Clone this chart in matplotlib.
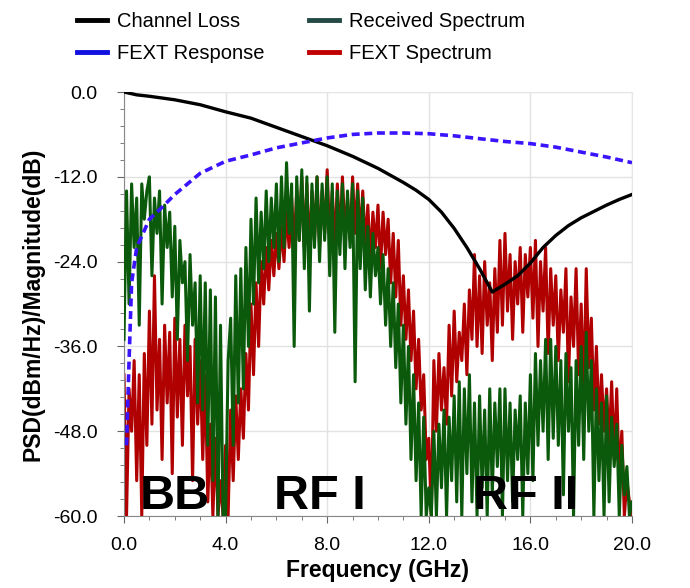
import numpy as np
import matplotlib
matplotlib.use("Agg")
import matplotlib.pyplot as plt
from matplotlib.ticker import MultipleLocator, FormatStrFormatter

plt.rcParams['font.family'] = ['Liberation Sans', 'DejaVu Sans']

# channel loss (dB), smooth curve
loss_f = [0, 0.5, 1, 2, 3, 4, 5, 6, 7, 8, 9, 10, 11, 11.5, 12, 12.5, 13, 13.5,
          14, 14.5, 15, 15.5, 16, 16.5, 17, 17.5, 18, 18.5, 19, 19.5, 20]
loss_db = [0, -0.4, -0.6, -1.1, -1.8, -2.8, -3.7, -5.0, -6.3, -7.6, -9.1,
           -10.8, -12.8, -13.9, -15.2, -17.0, -19.3, -22.0, -25.0, -28.3,
           -27.2, -26.0, -24.2, -22.0, -20.3, -18.9, -17.8, -16.9, -16.0,
           -15.2, -14.5]

# FEXT response (dB)
fext_f = [0.1, 0.2, 0.3, 0.5, 1.0, 1.5, 2, 2.5, 3, 4, 5, 6, 7, 8, 9, 10, 11,
          12, 13, 14, 15, 16, 17, 18, 19, 20]
fext_db = [-50, -38, -27, -22, -18, -16.3, -14.5, -13, -11.5, -9.8, -8.9,
           -7.9, -7.2, -6.5, -6.0, -5.8, -5.8, -5.9, -6.2, -6.6, -7.0, -7.3,
           -7.8, -8.5, -9.2, -10.0]

# spectra sampled every 0.1 GHz, 0..20 GHz
spec_f = np.round(np.arange(201) * 0.1, 1)

rx_psd = [
    -35, -14, -30, -13, -22, -15, -33, -13, -18, -14,
    -12, -26, -15, -20, -14, -30, -16, -22, -17, -29,
    -19, -35, -21, -27, -24, -38, -23, -33, -27, -44,
    -26, -45, -27, -50, -28, -55, -29, -60, -33, -60,
    -60, -38, -32, -50, -26, -44, -25, -42, -22, -36,
    -18, -30, -15, -27, -17, -25, -14, -24, -15, -22,
    -13, -24, -12, -22, -10, -20, -13, -36, -12, -21,
    -11, -25, -12, -31, -13, -22, -12, -24, -13, -21,
    -12, -26, -13, -34, -14, -23, -13, -25, -14, -22,
    -13, -41, -14, -25, -15, -28, -19, -29, -20, -26,
    -22, -30, -23, -33, -25, -36, -27, -39, -30, -44,
    -33, -47, -36, -52, -40, -55, -44, -60, -46, -60,
    -56, -60, -48, -60, -47, -56, -45, -60, -46, -55,
    -43, -58, -41, -60, -42, -54, -40, -58, -44, -60,
    -43, -56, -45, -60, -42, -57, -44, -53, -42, -60,
    -42, -55, -44, -58, -45, -52, -43, -60, -44, -54,
    -40, -55, -37, -50, -38, -48, -35, -52, -35, -49,
    -36, -50, -38, -57, -37, -48, -39, -60, -38, -50,
    -36, -52, -34, -48, -38, -60, -42, -55, -44, -60,
    -43, -58, -46, -53, -47, -60, -50, -57, -53, -60,
    -58,
]

fext_psd = [
    -40, -60, -42, -48, -38, -55, -40, -60, -37, -50,
    -31, -47, -26, -45, -35, -52, -33, -44, -34, -54,
    -32, -46, -35, -50, -33, -43, -36, -55, -35, -47,
    -38, -52, -40, -58, -47, -60, -49, -60, -55, -60,
    -50, -60, -45, -55, -43, -52, -42, -49, -37, -45,
    -30, -40, -27, -36, -24, -30, -22, -28, -21, -26,
    -20, -25, -19, -24, -17, -22, -15, -22, -14, -21,
    -12, -22, -13, -23, -14, -21, -12, -22, -14, -20,
    -11, -21, -14, -22, -13, -21, -12, -20, -15, -21,
    -12, -20, -13, -21, -14, -22, -16, -24, -17, -22,
    -16, -25, -17, -23, -18, -27, -20, -29, -21, -33,
    -26, -35, -28, -38, -31, -42, -35, -45, -40, -52,
    -49, -60, -38, -48, -37, -45, -39, -47, -33, -43,
    -31, -41, -34, -38, -30, -40, -28, -35, -23, -36,
    -26, -37, -24, -33, -27, -38, -25, -34, -21, -33,
    -20, -31, -23, -35, -24, -30, -22, -34, -23, -29,
    -22, -32, -21, -36, -24, -31, -22, -37, -25, -33,
    -26, -38, -28, -34, -25, -41, -29, -36, -25, -40,
    -30, -43, -25, -39, -32, -45, -36, -47, -40, -48,
    -42, -50, -41, -52, -42, -55, -48, -60, -55, -58,
    -60,
]

bands = ["BB", "RF I", "RF II"]
band_x = [2.0, 7.7, 15.8]

fig = plt.figure(figsize=(6.9, 5.88), dpi=100)
ax = fig.add_axes([0.1797, 0.1224, 0.7362, 0.7211])

ax.plot(spec_f, fext_psd, color='#b00000', lw=2.2, zorder=2)
ax.plot(spec_f, rx_psd, color='#0b5a0b', lw=2.2, zorder=3)
ax.plot(loss_f, loss_db, color='black', lw=2.4, zorder=4)
ax.plot(fext_f, fext_db, color='#3a14ff', lw=2.6, ls=(0, (2.2, 1.3)), zorder=4)

for name, x in zip(bands, band_x):
    ax.text(x, -59.0, name, ha='center', va='baseline', fontsize=35,
            fontweight='bold', zorder=5)

ax.set_xlim(0, 20)
ax.set_ylim(-60, 0)
ax.xaxis.set_major_locator(MultipleLocator(4))
ax.xaxis.set_minor_locator(MultipleLocator(1))
ax.yaxis.set_major_locator(MultipleLocator(12))
ax.yaxis.set_minor_locator(MultipleLocator(2.4))
ax.xaxis.set_major_formatter(FormatStrFormatter('%.1f'))
ax.yaxis.set_major_formatter(FormatStrFormatter('%.1f'))
ax.tick_params(which='both', direction='out', color='#666666', labelsize=14)
ax.tick_params(which='major', length=5)
ax.tick_params(which='minor', length=3)
ax.tick_params(axis='x', which='major', pad=10)
ax.tick_params(axis='y', which='major', pad=14)
ax.grid(True, which='major', color='#e2e2e2', lw=1)
ax.set_axisbelow(True)
for s in ['top', 'right']:
    ax.spines[s].set_color('#e6e6e6')
for s in ['left', 'bottom']:
    ax.spines[s].set_color('#888888')

ax.set_xlabel('Frequency (GHz)', fontsize=16.5, fontweight='bold', labelpad=4)
ax.set_ylabel('PSD(dBm/Hz)/Magnitude(dB)', fontsize=16.5, fontweight='bold',
              labelpad=6)

handles = [
    plt.Line2D([], [], color='black', lw=3.5),
    plt.Line2D([], [], color='#1010e0', lw=3.5),
    plt.Line2D([], [], color='#234a44', lw=3.5),
    plt.Line2D([], [], color='#c00000', lw=3.5),
]
labels = ['Channel Loss', 'FEXT Response', 'Received Spectrum', 'FEXT Spectrum']
fig.legend(handles, labels, ncol=2, loc='upper left',
           bbox_to_anchor=(0.085, 1.01), frameon=False, fontsize=14.5,
           handlelength=1.5, handletextpad=0.5, columnspacing=2.2,
           labelspacing=0.65)

fig.savefig('out.png', dpi=100)
